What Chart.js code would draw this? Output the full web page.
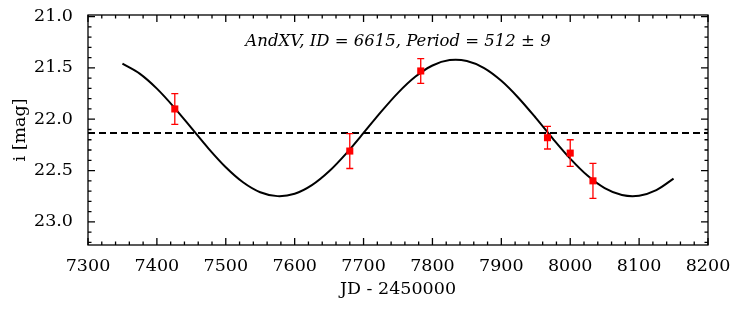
<!DOCTYPE html>
<html>
<head>
<meta charset="utf-8">
<script src="https://cdn.jsdelivr.net/npm/chart.js@4.4.1/dist/chart.umd.min.js"></script>
<style>
  html, body { margin: 0; padding: 0; background: #fff; }
  #wrap { width: 740px; height: 310px; }
</style>
</head>
<body>
<div id="wrap"><canvas id="lc"></canvas></div>
<script>
// observed photometry (JD - 2450000, i mag, error)
const obsJD = [7426, 7680, 7783, 7967, 8000, 8033];
const obsMag = [21.90, 22.31, 21.53, 22.18, 22.33, 22.60];
const obsErr = [0.15, 0.17, 0.12, 0.11, 0.13, 0.17];

// fitted light curve
const fitJD = [7350, 7375, 7400, 7425, 7450, 7475, 7500, 7525, 7550, 7575, 7600, 7625, 7650, 7675, 7700, 7725,
  7750, 7775, 7800, 7825, 7850, 7875, 7900, 7925, 7950, 7975, 8000, 8025, 8050, 8075, 8100, 8125, 8150];
const fitMag = [21.459, 21.556, 21.702, 21.884, 22.085, 22.286, 22.468, 22.614, 22.711, 22.749, 22.726, 22.642,
  22.507, 22.332, 22.134, 21.931, 21.743, 21.587, 21.477, 21.424, 21.433, 21.502, 21.626, 21.793, 21.987,
  22.191, 22.384, 22.549, 22.671, 22.738, 22.745, 22.691, 22.579];

const meanMag = 22.135;

const xTicks = [7300, 7400, 7500, 7600, 7700, 7800, 7900, 8000, 8100, 8200];
const yTicks = [21.0, 21.5, 22.0, 22.5, 23.0];

const titleText = 'AndXV, ID = 6615, Period = 512 \u00b1 9';
const serif = "'DejaVu Serif', serif";

// error bars
const errorBars = {
  id: 'errorBars',
  afterDatasetsDraw(chart) {
    const ctx = chart.ctx;
    const xs = chart.scales.x, ys = chart.scales.y;
    ctx.save();
    ctx.strokeStyle = 'red';
    ctx.lineWidth = 1.3;
    obsJD.forEach((jd, i) => {
      const px = xs.getPixelForValue(jd);
      const top = ys.getPixelForValue(obsMag[i] - obsErr[i]);
      const bot = ys.getPixelForValue(obsMag[i] + obsErr[i]);
      ctx.beginPath();
      ctx.moveTo(px, top); ctx.lineTo(px, bot);
      ctx.moveTo(px - 3.5, top); ctx.lineTo(px + 3.5, top);
      ctx.moveTo(px - 3.5, bot); ctx.lineTo(px + 3.5, bot);
      ctx.stroke();
    });
    ctx.restore();
  }
};

// frame with inward ticks on all four sides, plus the label inside the plot
const frame = {
  id: 'frame',
  afterDraw(chart) {
    const ctx = chart.ctx;
    const a = chart.chartArea;
    const xs = chart.scales.x, ys = chart.scales.y;
    ctx.save();
    ctx.strokeStyle = '#000';
    ctx.lineWidth = 1.3;
    ctx.strokeRect(a.left, a.top, a.right - a.left, a.bottom - a.top);
    ctx.beginPath();
    for (let v = 7300; v <= 8200; v += 20) {
      const px = xs.getPixelForValue(v);
      const len = v % 100 === 0 ? 7 : 3.5;
      ctx.moveTo(px, a.bottom); ctx.lineTo(px, a.bottom - len);
      ctx.moveTo(px, a.top); ctx.lineTo(px, a.top + len);
    }
    for (let k = 210; k <= 232; k++) {
      const v = k / 10;
      const py = ys.getPixelForValue(v);
      if (py < a.top || py > a.bottom) continue;
      const len = k % 5 === 0 ? 7 : 3.5;
      ctx.moveTo(a.left, py); ctx.lineTo(a.left + len, py);
      ctx.moveTo(a.right, py); ctx.lineTo(a.right - len, py);
    }
    ctx.stroke();
    ctx.fillStyle = '#000';
    ctx.font = 'italic 16.5px ' + serif;
    ctx.textAlign = 'center';
    ctx.textBaseline = 'middle';
    ctx.fillText(titleText, (a.left + a.right) / 2, 42);
    ctx.restore();
  }
};

new Chart(document.getElementById('lc'), {
  type: 'scatter',
  data: {
    datasets: [
      {
        label: 'fit',
        type: 'line',
        data: fitJD.map((x, i) => ({ x: x, y: fitMag[i] })),
        borderColor: '#000',
        borderWidth: 2,
        pointRadius: 0,
        tension: 0.3,
        fill: false,
        order: 2
      },
      {
        label: 'mean',
        type: 'line',
        data: [{ x: 7300, y: meanMag }, { x: 8200, y: meanMag }],
        borderColor: '#000',
        borderWidth: 2,
        borderDash: [7, 4],
        pointRadius: 0,
        fill: false,
        order: 3
      },
      {
        label: 'obs',
        data: obsJD.map((x, i) => ({ x: x, y: obsMag[i] })),
        backgroundColor: 'red',
        borderColor: 'red',
        pointStyle: 'rect',
        pointRadius: 5,
        borderWidth: 0,
        order: 1
      }
    ]
  },
  options: {
    responsive: true,
    maintainAspectRatio: false,
    animation: false,
    layout: { padding: { left: 0, right: 32, top: 15, bottom: 0 } },
    plugins: {
      legend: { display: false },
      tooltip: { enabled: false }
    },
    scales: {
      x: {
        type: 'linear',
        min: 7300,
        max: 8200,
        grid: { display: false, drawTicks: false },
        border: { display: false },
        afterBuildTicks: s => { s.ticks = xTicks.map(v => ({ value: v })); },
        afterFit: s => { s.height = 65; s.paddingLeft = 0; s.paddingRight = 0; },
        ticks: {
          color: '#000',
          padding: 11,
          maxRotation: 0,
          font: { family: serif, size: 17.5 },
          callback: v => String(v)
        },
        title: {
          display: true,
          text: 'JD - 2450000',
          color: '#000',
          font: { family: serif, size: 17.5 },
          padding: { top: 0, bottom: 10 }
        }
      },
      y: {
        type: 'linear',
        reverse: true,
        min: 20.985,
        max: 23.225,
        grid: { display: false, drawTicks: false },
        border: { display: false },
        afterBuildTicks: s => { s.ticks = yTicks.map(v => ({ value: v })); },
        afterFit: s => { s.width = 88; s.paddingTop = 0; s.paddingBottom = 0; },
        ticks: {
          color: '#000',
          padding: 15,
          font: { family: serif, size: 17.5 },
          callback: v => v.toFixed(1)
        },
        title: {
          display: true,
          text: 'i [mag]',
          color: '#000',
          font: { family: serif, size: 17.5 },
          padding: { top: 10, bottom: 0 }
        }
      }
    }
  },
  plugins: [errorBars, frame]
});
</script>
</body>
</html>
